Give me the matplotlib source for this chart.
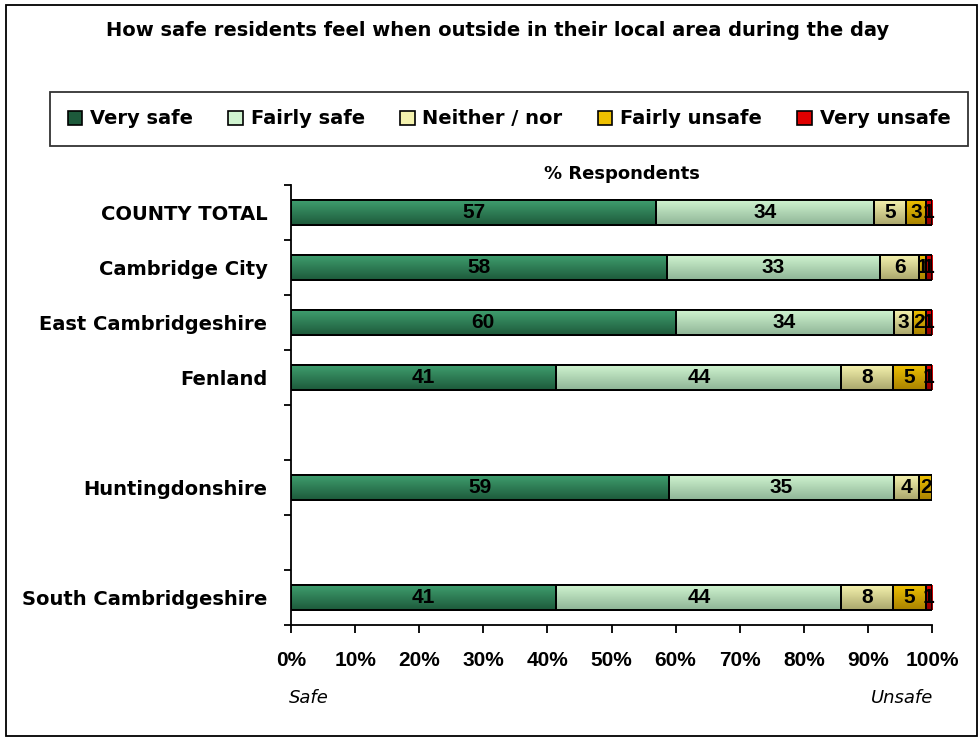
import numpy as np
import matplotlib
matplotlib.use("Agg")
import matplotlib.pyplot as plt
from matplotlib.colors import LinearSegmentedColormap
from matplotlib.patches import Rectangle

plt.rcParams['font.family'] = ['Liberation Sans', 'DejaVu Sans']
WORD_FONT = ['DejaVu Sans']

title = "How safe residents feel when outside in their local area during the day"
areas = ["COUNTY TOTAL", "Cambridge City", "East Cambridgeshire", "Fenland",
         "Huntingdonshire", "South Cambridgeshire"]
# row slot of each area (blank slots between some rows)
slots = [0, 1, 2, 3, 5, 7]
responses = ["Very safe", "Fairly safe", "Neither / nor", "Fairly unsafe", "Very unsafe"]

very_safe = [57, 58, 60, 41, 59, 41]
fairly_safe = [34, 33, 34, 44, 35, 44]
neither = [5, 6, 3, 8, 4, 8]
fairly_unsafe = [3, 1, 2, 5, 2, 5]
very_unsafe = [1, 1, 1, 1, 0, 1]

x_ticks = [0, 10, 20, 30, 40, 50, 60, 70, 80, 90, 100]

# (top colour, bottom colour) for each series gradient
shades = [("#3f9e6e", "#1d5a3b"),
          ("#cff3cf", "#8fb597"),
          ("#f4f2ae", "#aaa66c"),
          ("#eec000", "#a88200"),
          ("#e00000", "#8c0000")]

series = np.array([very_safe, fairly_safe, neither, fairly_unsafe, very_unsafe], dtype=float)
totals = series.sum(axis=0)
shares = series / totals * 100

fig = plt.figure(figsize=(9.8, 7.38), dpi=100)
W, H = 980, 738

# outer frame
fig.add_artist(Rectangle((6 / W, 1 - 736 / H), 971 / W, 731 / H, transform=fig.transFigure,
                         fill=False, edgecolor="black", linewidth=1.3))

ax = fig.add_axes([291 / W, 1 - 625 / H, 641 / W, 440 / H])

bar_h = 0.44
left = np.zeros(len(areas))
for i, name in enumerate(responses):
    top_c, bot_c = shades[i]
    bars = ax.barh(slots, shares[i], left=left, height=bar_h,
                   color=top_c, edgecolor="black", linewidth=1.4, zorder=2)
    cmap = LinearSegmentedColormap.from_list(f"g{i}", [top_c, bot_c])
    grad = np.linspace(0, 1, 64).reshape(-1, 1)
    for b, raw in zip(bars, series[i]):
        if b.get_width() <= 0:
            continue
        x0, y0, w, h = b.get_x(), b.get_y(), b.get_width(), b.get_height()
        ax.imshow(grad, cmap=cmap, aspect="auto", origin="upper",
                  extent=[x0, x0 + w, y0 + h, y0], zorder=2.5, interpolation="bilinear")
        ax.add_patch(Rectangle((x0, y0), w, h, fill=False, edgecolor="black",
                               linewidth=1.4, zorder=3))
        ax.text(x0 + w / 2, y0 + h / 2, f"{int(raw)}", ha="center", va="center",
                fontsize=15, fontweight="bold", color="black", zorder=4)
    left += shares[i]

ax.set_xlim(0, 100)
ax.set_ylim(7.5, -0.5)
ax.set_xticks(x_ticks)
ax.set_xticklabels([f"{t}%" for t in x_ticks], fontsize=15, fontweight="bold")
ax.set_yticks(np.arange(-0.5, 8.0, 1.0))
ax.set_yticklabels([])
ax.set_yticks(slots, minor=True)
ax.set_yticklabels(areas, minor=True, fontsize=14, fontweight="bold", family=WORD_FONT)
ax.tick_params(axis="y", which="minor", length=0, pad=17)
ax.tick_params(axis="y", which="major", length=5, width=1.3, direction="out")
ax.tick_params(axis="x", length=6, width=1.3, direction="out", pad=13)
for s in ("top", "right"):
    ax.spines[s].set_visible(False)
for s in ("left", "bottom"):
    ax.spines[s].set_linewidth(1.3)

fig.text(498 / W, 1 - 30 / H, title, ha="center", va="center",
         fontsize=14, fontweight="bold", family=WORD_FONT)
fig.text(622 / W, 1 - 174 / H, "% Respondents", ha="center", va="center",
         fontsize=13, fontweight="bold", family=WORD_FONT)
fig.text(289 / W, 1 - 698 / H, "Safe", ha="left", va="center",
         fontsize=13, style="italic", family=WORD_FONT)
fig.text(933 / W, 1 - 698 / H, "Unsafe", ha="right", va="center",
         fontsize=13, style="italic", family=WORD_FONT)

handles = [Rectangle((0, 0), 1, 1, facecolor=shades[i][1] if i == 0 else shades[i][0],
                     edgecolor="black", linewidth=1.2) for i in range(5)]
leg = fig.legend(handles, responses, ncol=5, mode="expand",
                 bbox_to_anchor=(50 / W, 1 - 146 / H, 918 / W, 54 / H),
                 loc="center", frameon=True, fancybox=False, edgecolor="black",
                 prop={"size": 14, "weight": "bold", "family": WORD_FONT},
                 handlelength=0.75, handleheight=0.75, handletextpad=0.4,
                 borderaxespad=0, borderpad=0.9, columnspacing=1.0)
leg.get_frame().set_linewidth(1.3)

fig.savefig("out.png", dpi=100)
